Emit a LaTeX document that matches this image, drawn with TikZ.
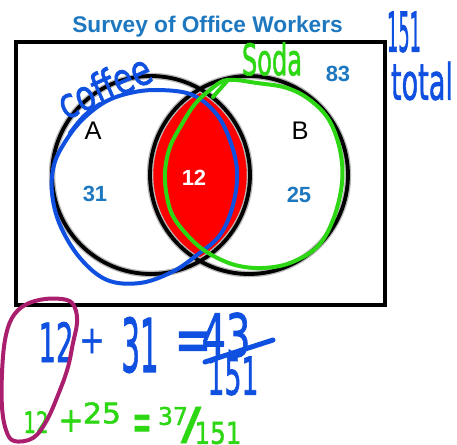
\documentclass[tikz,border=0pt]{standalone}
\usepackage{fontspec}
\usepackage{graphicx}
\setmainfont{Liberation Sans}
\newfontfamily\handfont{DejaVu Sans}[FakeBold=1.6]
\newlength\pxu
\setlength\pxu{0.02cm}
\newcommand\hw[3]{\resizebox{#1\pxu}{#2\pxu}{\handfont #3}}
\definecolor{printblue}{RGB}{30,120,192}
\definecolor{penblue}{RGB}{15,80,225}
\definecolor{pengreen}{RGB}{45,215,20}
\definecolor{penmag}{RGB}{170,30,110}
\definecolor{vred}{RGB}{255,0,0}
\tikzset{
  printnum/.style={inner sep=0pt, text=printblue, font=\fontsize{12.5}{14}\selectfont\bfseries},
  setlabel/.style={inner sep=0pt, font=\fontsize{14.5}{16}\selectfont},
  pentext/.style={inner sep=0pt},
  penstroke/.style={line width=4\pxu, line cap=round, line join=round},
}
\begin{document}
\begin{tikzpicture}[x=0.02cm,y=-0.02cm]
\useasboundingbox (0,0) rectangle (457,444);
\fill[white] (0,0) rectangle (457,444);
% frame
\draw[line width=4\pxu] (16,42) rectangle (385,305);
% lens
\begin{scope}
  \clip (151,175) circle[radius=99];
  \fill[vred] (249,175) circle[radius=99];
\end{scope}
% circles
\draw[gray!55, line width=6.5\pxu] (151,175) circle[radius=99] (249,175) circle[radius=99];
\draw[black, line width=3.8\pxu] (151,175) circle[radius=99] (249,175) circle[radius=99];
% printed text
\node[anchor=base, inner sep=0pt, text=printblue, font=\fontsize{12.9}{15}\selectfont\bfseries] (title) at (207.5,32) {Survey of Office Workers};
\node[setlabel] (A) at (93,131) {A};
\node[setlabel] (B) at (300,131) {B};
\node[printnum] (n31) at (95,194) {31};
\node[printnum, text=white] (n12) at (194,178) {12};
\node[printnum] (n25) at (299,195) {25};
\node[printnum] (n83) at (338,74) {83};
% blue handwriting
\draw[penblue, penstroke] plot[smooth cycle, tension=0.6] coordinates {(157,90) (190,94) (213,110) (228,135) (237,170) (233,205) (220,235) (197,255) (172,272) (140,283) (107,280) (80,258) (60,225) (52,193) (54,165) (65,142) (82,120) (105,102) (130,93)};
\draw[penblue, penstroke] plot[smooth, tension=0.6] coordinates {(70,133) (84,116) (100,104)};
\node[pentext, text=penblue, rotate=24] (coffee) at (104,86) {\hw{98}{32}{coffee}};
\node[pentext, text=penblue] (tot151) at (404,32) {\hw{34}{40}{151}};
\node[pentext, text=penblue] (total) at (422,81) {\hw{62}{38}{total}};
\node[pentext, text=penblue] (b12) at (56,342) {\hw{35}{40}{12}};
\node[pentext, text=penblue] (bplus) at (92,341) {\hw{25}{24}{+}};
\node[pentext, text=penblue] (b31) at (140,345) {\hw{37}{55}{31}};
\node[pentext, text=penblue] (beq) at (193,347) {\hw{37}{30}{=}};
\node[pentext, text=penblue] (b43) at (226,335) {\hw{49}{44}{43}};
\draw[penblue, line width=5\pxu, line cap=round] (205,362) -- (273,340);
\node[pentext, text=penblue] (b151) at (233,376) {\hw{51}{38}{151}};
% green handwriting
\draw[pengreen, penstroke] plot[smooth cycle, tension=0.6] coordinates {(227,80) (210,90) (195,104) (182,124) (170,147) (165,172) (167,197) (174,218) (192,240) (210,254) (235,265) (262,268) (290,263) (317,247) (333,220) (342,183) (340,150) (329,120) (310,100) (287,88) (257,83)};
\draw[pengreen, penstroke] (213,97) -- (228,80);
\node[pentext, text=pengreen] (soda) at (272,59) {\hw{60}{33}{Soda}};
\node[pentext, text=pengreen] (g12) at (36,422) {\hw{25}{22}{12}};
\node[pentext, text=pengreen] (gplus) at (71,421) {\hw{25}{21}{+}};
\node[pentext, text=pengreen] (g25) at (102,413) {\hw{38}{21}{25}};
\node[pentext, text=pengreen] (geq) at (142,428) {\hw{19}{26}{=}};
\node[pentext, text=pengreen] (g37) at (173,416) {\hw{30}{18}{37}};
\node[pentext, text=pengreen] (gslash) at (191,425) {\hw{20}{32}{/}};
\node[pentext, text=pengreen] (g151) at (218,433) {\hw{47}{22}{151}};
% magenta loop
\draw[penmag, penstroke] plot[smooth cycle, tension=0.6] coordinates {(67,300) (45,299) (25,305) (12,318) (5,340) (2,373) (2,407) (6,430) (14,441) (33,438) (47,420) (60,390) (68,367) (73,343) (77,323) (75,308)};
\end{tikzpicture}
\end{document}
